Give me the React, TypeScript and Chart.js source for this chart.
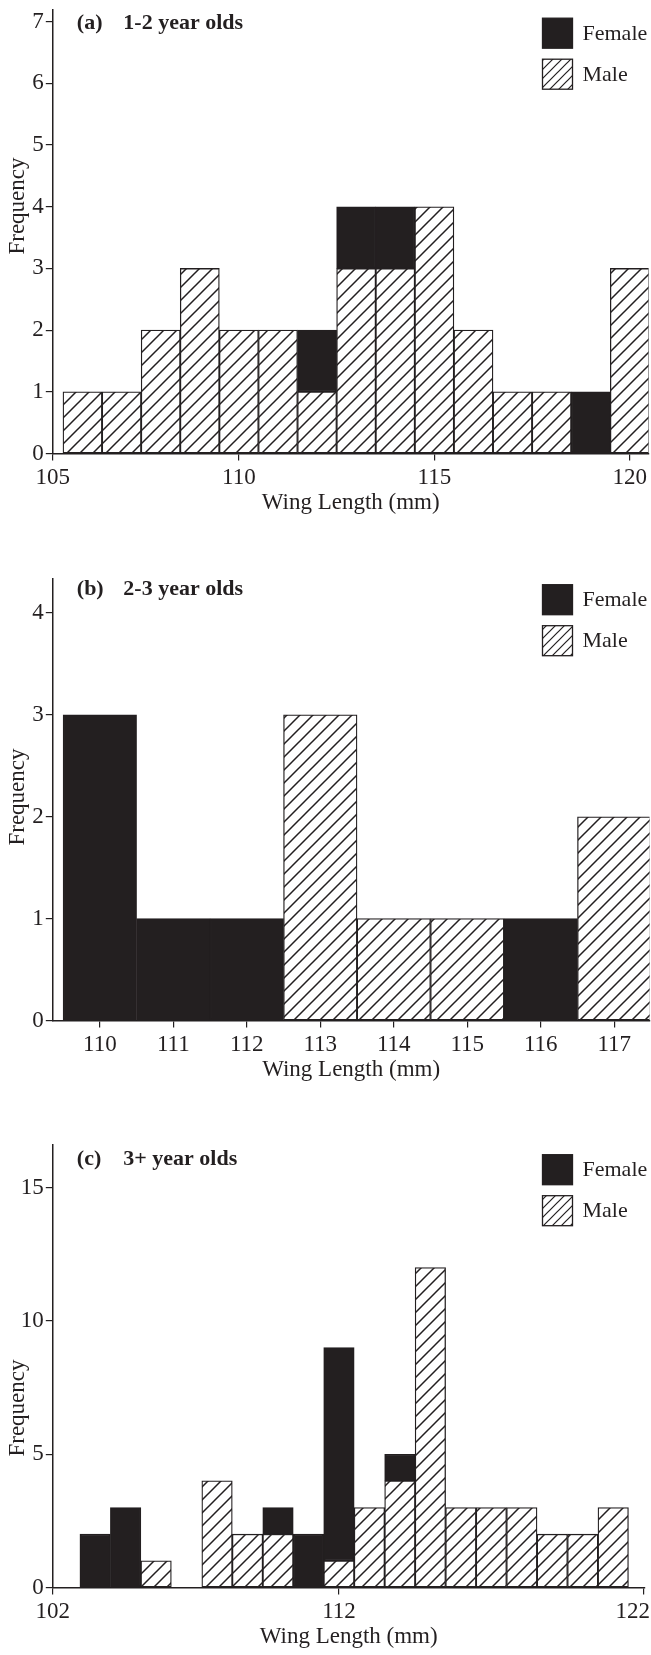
import React, { useEffect, useRef } from 'react';
import { Chart, registerables } from 'chart.js';

Chart.register(...registerables);

// ---------- data ----------
const binsA = [106, 107, 108, 109, 110, 111, 112, 113, 114, 115, 116, 117, 118, 119, 120];
const femaleA = [0, 0, 0, 0, 0, 0, 1, 1, 1, 0, 0, 0, 0, 1, 0];
const maleA = [1, 1, 2, 3, 2, 2, 1, 3, 3, 4, 2, 1, 1, 0, 3];
const xTicksA = [105, 110, 115, 120];
const yTicksA = [0, 1, 2, 3, 4, 5, 6, 7];

const binsB = [110, 111, 112, 113, 114, 115, 116, 117];
const femaleB = [3, 1, 1, 0, 0, 0, 1, 0];
const maleB = [0, 0, 0, 3, 1, 1, 0, 2];
const xTicksB = [110, 111, 112, 113, 114, 115, 116, 117];
const yTicksB = [0, 1, 2, 3, 4];

const binsC = [104, 105, 106, 107, 108, 109, 110, 111, 112, 113, 114, 115, 116, 117, 118, 119, 120, 121];
const femaleC = [2, 3, 0, 0, 0, 0, 1, 2, 8, 0, 1, 0, 0, 0, 0, 0, 0, 0];
const maleC = [0, 0, 1, 0, 4, 2, 2, 0, 1, 3, 4, 12, 3, 3, 3, 2, 2, 3];
const xTicksC = [102, 112, 122];
const yTicksC = [0, 5, 10, 15];

const seriesLabels = ['Female', 'Male'];
const xTitle = 'Wing Length (mm)';
const yTitle = 'Frequency';

// ---------- layout / style ----------
const W = 651;
const INK = '#231f20';
const FAMILY = '"Liberation Serif", "Times New Roman", Times, serif';
const FONT_SIZE = 23;
const LEGEND_FONT = 22;
const X_AXIS_H = 63.5;
const Y_AXIS_W = 52.8;

type PanelCfg = {
  key: string;
  letter: string;
  title: string;
  bins: number[];
  female: number[];
  male: number[];
  xTicks: number[];
  yTicks: number[];
  xMin: number;
  xMax: number;
  yMax: number;
  top: number;
  padTop: number;
  padRight: number;
  chartBottom: number;
  titleBaseline: number;
  yTitleCenter: number;
  rightAlignLast?: boolean;
};

const panels: PanelCfg[] = [
  {
    key: 'a', letter: '(a)', title: '1-2 year olds',
    bins: binsA, female: femaleA, male: maleA, xTicks: xTicksA, yTicks: yTicksA,
    xMin: 105.24, xMax: 120.48, yMax: 7.19,
    top: 0, padTop: 10, padRight: 2.4, chartBottom: 453.3, titleBaseline: 28.5, yTitleCenter: 206,
  },
  {
    key: 'b', letter: '(b)', title: '2-3 year olds',
    bins: binsB, female: femaleB, male: maleB, xTicks: xTicksB, yTicks: yTicksB,
    xMin: 109.36, xMax: 117.48, yMax: 4.34,
    top: 560, padTop: 18.3, padRight: 1.5, chartBottom: 1020, titleBaseline: 35, yTitleCenter: 237,
  },
  {
    key: 'c', letter: '(c)', title: '3+ year olds',
    bins: binsC, female: femaleC, male: maleC, xTicks: xTicksC, yTicks: yTicksC,
    xMin: 102.61, xMax: 122.03, yMax: 16.6,
    top: 1130, padTop: 15, padRight: 6.4, chartBottom: 1587, titleBaseline: 35, yTitleCenter: 278,
    rightAlignLast: true,
  },
];

function makeTile(size: number, lw: number): HTMLCanvasElement {
  const c = document.createElement('canvas');
  c.width = size;
  c.height = size;
  const g = c.getContext('2d')!;
  g.fillStyle = '#ffffff';
  g.fillRect(0, 0, size, size);
  g.strokeStyle = INK;
  g.lineWidth = lw;
  g.lineCap = 'butt';
  g.beginPath();
  g.moveTo(-1, size + 1);
  g.lineTo(size + 1, -1);
  g.moveTo(-2, 2);
  g.lineTo(2, -2);
  g.moveTo(size - 2, size + 2);
  g.lineTo(size + 2, size - 2);
  g.stroke();
  return c;
}

function Panel({ cfg }: { cfg: PanelCfg }) {
  const ref = useRef<HTMLCanvasElement | null>(null);
  const height = cfg.chartBottom - cfg.top + X_AXIS_H;

  useEffect(() => {
    const canvas = ref.current;
    if (!canvas) return;
    const ctx = canvas.getContext('2d')!;
    const hatch = ctx.createPattern(makeTile(13, 1.5), 'repeat');
    const legendHatch = ctx.createPattern(makeTile(9, 1.2), 'repeat');
    const font = { family: FAMILY, size: FONT_SIZE };

    const decor = {
      id: 'decor-' + cfg.key,
      afterDraw(chart: any) {
        const c = chart.ctx as CanvasRenderingContext2D;
        const ca = chart.chartArea;
        c.save();
        // panel title
        c.fillStyle = INK;
        c.font = `bold 22px ${FAMILY}`;
        c.textBaseline = 'alphabetic';
        c.textAlign = 'left';
        c.fillText(cfg.letter, ca.left + 24, cfg.titleBaseline);
        c.fillText(cfg.title, ca.left + 70.5, cfg.titleBaseline);
        // y axis title
        c.save();
        c.translate(17.5, cfg.yTitleCenter);
        c.rotate(-Math.PI / 2);
        c.font = `${FONT_SIZE}px ${FAMILY}`;
        c.textAlign = 'center';
        c.textBaseline = 'middle';
        c.fillText(yTitle, 0, 0);
        c.restore();
        // legend
        const bx = 542.5;
        const bs = 30;
        const y0 = cfg.titleBaseline - 10.3;
        const fills = [INK, legendHatch];
        seriesLabels.forEach((lab, i) => {
          const by = y0 + i * 41;
          c.fillStyle = fills[i] as any;
          c.fillRect(bx, by, bs, bs);
          c.strokeStyle = INK;
          c.lineWidth = 1.3;
          c.strokeRect(bx, by, bs, bs);
          c.fillStyle = INK;
          c.font = `${LEGEND_FONT}px ${FAMILY}`;
          c.textAlign = 'left';
          c.textBaseline = 'middle';
          c.fillText(lab, bx + 40, by + bs / 2 + 1);
        });
        c.restore();
      },
    };

    const barCommon = {
      borderColor: INK,
      borderWidth: 1.3,
      borderSkipped: false,
      barPercentage: 1,
      categoryPercentage: 1,
    };

    const chart = new Chart(canvas, {
      type: 'bar',
      data: {
        datasets: [
          {
            ...barCommon,
            label: seriesLabels[1],
            data: cfg.bins.map((b, i) => ({ x: b, y: cfg.male[i] })),
            backgroundColor: hatch as any,
          },
          {
            ...barCommon,
            label: seriesLabels[0],
            data: cfg.bins.map((b, i) => ({ x: b, y: cfg.female[i] })),
            backgroundColor: INK,
          },
        ] as any,
      },
      options: {
        responsive: false,
        maintainAspectRatio: false,
        animation: false,
        devicePixelRatio: 1,
        events: [],
        layout: { padding: { top: cfg.padTop, right: cfg.padRight, left: 0, bottom: 0 } },
        plugins: {
          legend: { display: false },
          tooltip: { enabled: false },
          title: { display: false },
        },
        scales: {
          x: {
            type: 'linear',
            stacked: true,
            offset: false,
            min: cfg.xMin,
            max: cfg.xMax,
            afterBuildTicks: (s: any) => {
              s.ticks = cfg.xTicks.map((v) => ({ value: Math.max(v, cfg.xMin) }));
            },
            afterFit: (s: any) => {
              s.height = X_AXIS_H;
              s.paddingLeft = 0;
              s.paddingRight = 0;
            },
            afterUpdate: (s: any) => {
              if (!cfg.rightAlignLast) return;
              const orig = s._computeLabelItems.bind(s);
              s._computeLabelItems = (area: any) => {
                const items = orig(area);
                const last = items[items.length - 1];
                if (last) {
                  last.options.textAlign = 'right';
                  last.options.translation = [W - 1, last.options.translation[1]];
                }
                return items;
              };
            },
            ticks: {
              callback: (_v: any, i: number) => String(cfg.xTicks[i]),
              font,
              color: INK,
              padding: 4,
              maxRotation: 0,
              autoSkip: false,
            },
            grid: {
              display: true,
              offset: false,
              drawOnChartArea: false,
              drawTicks: true,
              tickLength: 7,
              color: INK,
              lineWidth: 1.2,
            },
            border: { display: true, color: INK, width: 1.5 },
            title: { display: true, text: xTitle, font, color: INK, padding: { top: 0, bottom: 0 } },
          },
          y: {
            type: 'linear',
            stacked: true,
            min: 0,
            max: cfg.yMax,
            afterBuildTicks: (s: any) => {
              s.ticks = cfg.yTicks.map((v) => ({ value: v }));
            },
            afterFit: (s: any) => {
              s.width = Y_AXIS_W;
              s.paddingTop = 0;
              s.paddingBottom = 0;
            },
            ticks: {
              callback: (_v: any, i: number) => String(cfg.yTicks[i]),
              font,
              color: INK,
              padding: 2,
              autoSkip: false,
            },
            grid: {
              display: true,
              drawOnChartArea: false,
              drawTicks: true,
              tickLength: 7,
              color: INK,
              lineWidth: 1.2,
            },
            border: { display: true, color: INK, width: 1.5 },
            title: { display: false },
          },
        },
      } as any,
      plugins: [decor],
    });

    return () => chart.destroy();
  }, [cfg]);

  return (
    <canvas
      ref={ref}
      width={W}
      height={Math.round(height)}
      style={{ position: 'absolute', left: 0, top: cfg.top, width: W, height: Math.round(height) }}
    />
  );
}

export default function App() {
  return (
    <div style={{ position: 'absolute', left: 0, top: 0, width: W, height: 1655, background: '#ffffff', overflow: 'hidden' }}>
      {panels.map((p) => (
        <Panel key={p.key} cfg={p} />
      ))}
    </div>
  );
}
